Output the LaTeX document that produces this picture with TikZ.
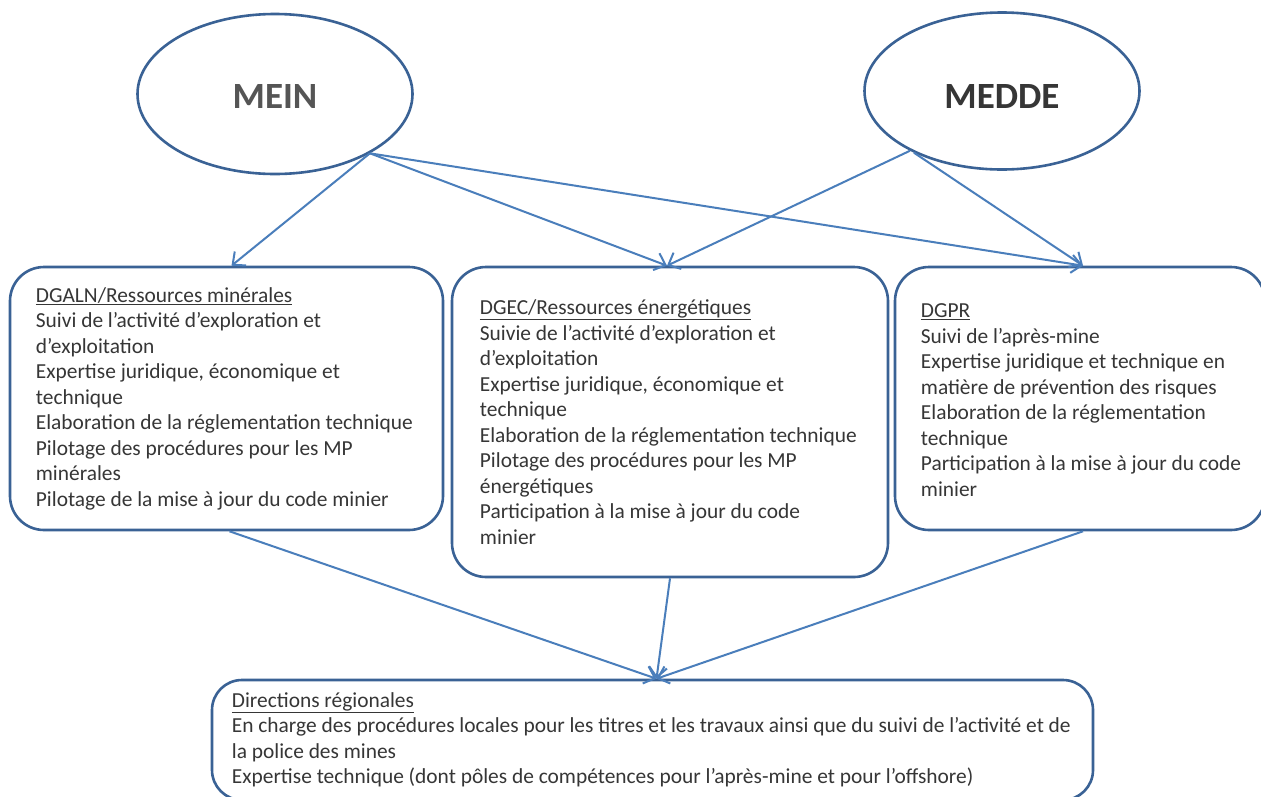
\documentclass[tikz,border=0pt]{standalone}
\usepackage{fontspec}
\setmainfont{Carlito}
\usetikzlibrary{arrows.meta,shapes.geometric}
\definecolor{bord}{HTML}{3A6295}
\definecolor{arr}{HTML}{4A7EBB}
\definecolor{txt}{HTML}{363636}
\definecolor{txtlight}{HTML}{555555}
\begin{document}
\begin{tikzpicture}[x=1pt,y=-1pt,
  boxshape/.style={draw=bord,line width=2.6pt,rounded corners=34pt,fill=white,inner sep=0pt},
  boxtext/.style={anchor=west,align=left,inner sep=0pt,text=txt,font=\fontsize{21.4}{25.5}\selectfont},
  ell/.style={ellipse,draw=bord,line width=2.6pt,fill=white,inner sep=0pt,font=\fontsize{37}{44}\selectfont\bfseries},
  arrow/.style={draw=arr,line width=2pt,-{Straight Barb[length=10pt,width=18pt,line width=2pt]}}]
\clip (0,0) rectangle (1261,796);
\fill[white] (0,0) rectangle (1261,796);
% ellipses
\node[ell,minimum width=275pt,minimum height=160pt,text=txtlight] (mein) at (275,94) {\raisebox{-14pt}[0pt][0pt]{MEIN}};
\node[ell,minimum width=275pt,minimum height=157pt,text=txt] (medde) at (1002,91) {\raisebox{-17pt}[0pt][0pt]{MEDDE}};
% boxes
\node[boxshape,minimum width=433pt,minimum height=263pt] (b1) at (226.5,398.5) {};
\node[boxshape,minimum width=436pt,minimum height=310pt] (b2) at (670,422) {};
\node[boxshape,minimum width=370pt,minimum height=263pt] (b3) at (1080,398.5) {};
\node[boxshape,rounded corners=30pt,minimum width=881pt,minimum height=120pt] (b4) at (652.5,740) {};
% texts
\node[boxtext] (t1) at ([xshift=27pt]b1.west) {\underline{DGALN/Ressources minérales}\\
Suivi de l’activité d’exploration et\\
d’exploitation\\
Expertise juridique, économique et\\
technique\\
Elaboration de la réglementation technique\\
Pilotage des procédures pour les MP\\
minérales\\
Pilotage de la mise à jour du code minier};
\node[boxtext] (t2) at ([xshift=29pt]b2.west) {\underline{DGEC/Ressources énergétiques}\\
Suivie de l’activité d’exploration et\\
d’exploitation\\
Expertise juridique, économique et\\
technique\\
Elaboration de la réglementation technique\\
Pilotage des procédures pour les MP\\
énergétiques\\
Participation à la mise à jour du code\\
minier};
\node[boxtext] (t3) at ([xshift=27pt,yshift=-1.5pt]b3.west) {\underline{DGPR}\\
Suivi de l’après-mine\\
Expertise juridique et technique en\\
matière de prévention des risques\\
Elaboration de la réglementation\\
technique\\
Participation à la mise à jour du code\\
minier};
\node[boxtext] (t4) at ([xshift=21pt]b4.west) {\underline{Directions régionales}\\
En charge des procédures locales pour les titres et les travaux ainsi que du suivi de l’activité et de\\
la police des mines\\
Expertise technique (dont pôles de compétences pour l’après-mine et pour l’offshore)};
% arrows
\draw[arrow] (mein.-32) -- ([xshift=5pt]b1.north);
\draw[arrow] (mein.-32) -- ([xshift=-3pt]b2.north);
\draw[arrow] (mein.-32) -- ([xshift=3pt]b3.north);
\draw[arrow] (medde.-147) -- ([xshift=-3pt]b2.north);
\draw[arrow] (medde.-145) -- ([xshift=3pt]b3.north);
\draw[arrow] ([xshift=3pt]b1.south) -- ([xshift=4pt]b4.north);
\draw[arrow] (b2.south) -- ([xshift=4pt]b4.north);
\draw[arrow] ([xshift=3pt]b3.south) -- ([xshift=4pt]b4.north);
\end{tikzpicture}
\end{document}
